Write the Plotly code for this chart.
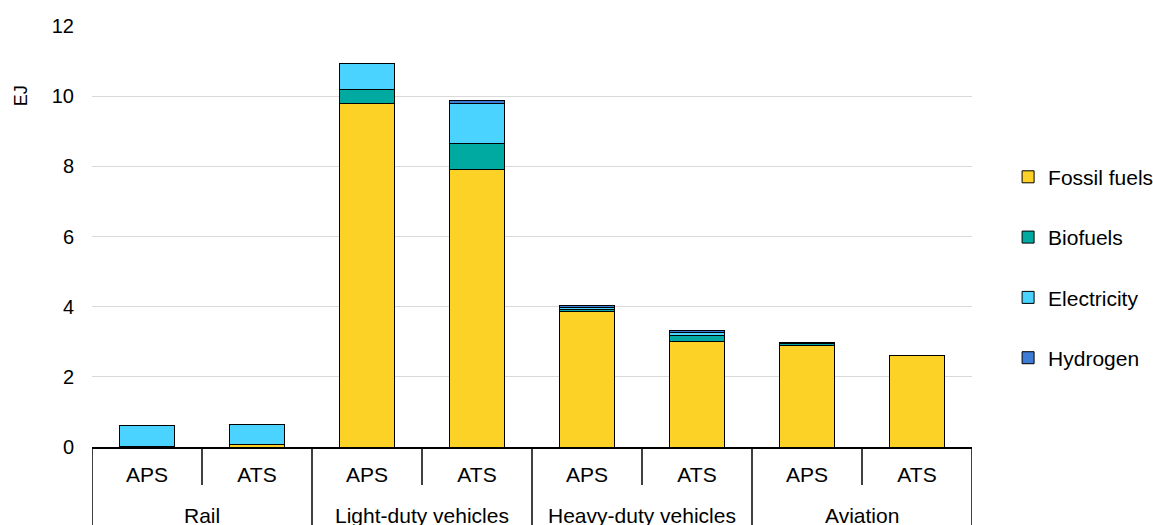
import plotly.graph_objects as go

# Transport final energy demand by mode and scenario (EJ)
groups = ["Rail", "Rail", "Light-duty vehicles", "Light-duty vehicles",
          "Heavy-duty vehicles", "Heavy-duty vehicles", "Aviation", "Aviation"]
scenarios = ["APS", "ATS", "APS", "ATS", "APS", "ATS", "APS", "ATS"]

fossil_fuels = [0.01, 0.07, 9.80, 7.90, 3.85, 3.02, 2.89, 2.60]
biofuels = [0.00, 0.00, 0.38, 0.76, 0.08, 0.17, 0.06, 0.00]
electricity = [0.61, 0.57, 0.75, 1.14, 0.05, 0.07, 0.02, 0.00]
hydrogen = [0.00, 0.00, 0.01, 0.09, 0.05, 0.07, 0.01, 0.00]

series = [
    ("Fossil fuels", fossil_fuels, "#FDD227"),
    ("Biofuels", biofuels, "#00AAA0"),
    ("Electricity", electricity, "#4AD3FF"),
    ("Hydrogen", hydrogen, "#3D7CD6"),
]

FONT = "Liberation Sans, Arial, sans-serif"
PLOT_H = 525 - 26 - 78

# one unique category per (mode, scenario) pair
keys = [f"{g} | {s}" for g, s in zip(groups, scenarios)]

fig = go.Figure()
for name, vals, col in series:
    fig.add_trace(go.Bar(
        x=keys, y=vals, name=name, legendgroup=name,
        marker=dict(color=col, line=dict(color="#000000", width=1)),
    ))

# mode labels centred under their scenario pairs, plus the box dividers
mode_order = list(dict.fromkeys(groups))
line_style = dict(color="#000000", width=1.5)
for m in mode_order:
    idx = [i for i, g in enumerate(groups) if g == m]
    fig.add_annotation(text=m, xref="x", yref="paper",
                       x=sum(idx) / len(idx), y=-(515 - 447) / PLOT_H,
                       xanchor="center", yanchor="middle", showarrow=False,
                       font=dict(family=FONT, size=21, color="#000000"))
    fig.add_shape(type="line", xref="x", yref="paper",
                  x0=idx[0] - 0.5, x1=idx[0] - 0.5, y0=0, y1=-0.3,
                  line=line_style)
    for i in idx[1:]:
        fig.add_shape(type="line", xref="x", yref="paper",
                      x0=i - 0.5, x1=i - 0.5, y0=0, y1=-38 / PLOT_H,
                      line=line_style)
fig.add_shape(type="line", xref="x", yref="paper",
              x0=len(keys) - 0.5, x1=len(keys) - 0.5, y0=0, y1=-0.3,
              line=line_style)

fig.add_annotation(text="EJ", xref="paper", yref="y", x=0, y=10,
                   xanchor="center", yanchor="middle", xshift=-71,
                   textangle=-90, showarrow=False,
                   font=dict(family=FONT, size=18, color="#000000"))

fig.update_layout(
    width=1153, height=525,
    margin=dict(l=92, r=181, t=26, b=78, autoexpand=False),
    barmode="stack", bargap=0.5,
    plot_bgcolor="#ffffff", paper_bgcolor="#ffffff",
    font=dict(family=FONT, size=21, color="#000000"),
    legend=dict(x=1.041, y=0.426, xanchor="left", yanchor="middle",
                traceorder="grouped", tracegroupgap=30,
                font=dict(family=FONT, size=21, color="#000000"),
                itemwidth=30),
    showlegend=True,
)
fig.update_xaxes(type="category", range=[-0.5, len(keys) - 0.5],
                 tickvals=keys, ticktext=scenarios,
                 showline=True, linecolor="#000000", linewidth=1.5,
                 ticks="outside", ticklen=8, tickcolor="rgba(0,0,0,0)",
                 showgrid=False,
                 tickfont=dict(family=FONT, size=21, color="#000000"))
fig.update_yaxes(range=[0, 12], dtick=2, showgrid=True, gridcolor="#D9D9D9",
                 gridwidth=1, zeroline=False, showline=False, ticks="",
                 ticklabelstandoff=17,
                 tickfont=dict(family=FONT, size=20, color="#000000"))

fig.write_html("out.html")
